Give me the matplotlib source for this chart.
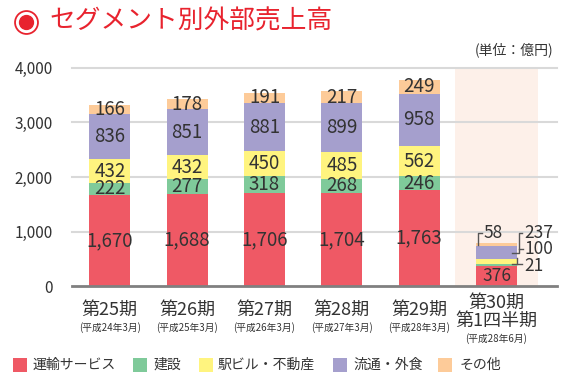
import matplotlib
matplotlib.use('Agg')
import matplotlib.pyplot as plt
from matplotlib.lines import Line2D
from matplotlib.patches import Rectangle
import numpy as np

plt.rcParams['font.family'] = ['Noto Sans CJK JP', 'DejaVu Sans']

# data (億円)
periods = ['第25期', '第26期', '第27期', '第28期', '第29期', '第30期\n第1四半期']
subs = ['(平成24年3月)', '(平成25年3月)', '(平成26年3月)', '(平成27年3月)', '(平成28年3月)', '(平成28年6月)']
segments = ['運輸サービス', '建設', '駅ビル・不動産', '流通・外食', 'その他']
transport = [1670, 1688, 1706, 1704, 1763, 376]
construction = [222, 277, 318, 268, 246, 21]
realestate = [432, 432, 450, 485, 562, 100]
retail = [836, 851, 881, 899, 958, 237]
other = [166, 178, 191, 217, 249, 58]
colors = ['#EF5965', '#7FCA9A', '#FFF47F', '#A59FCD', '#FDCB99']

series = [transport, construction, realestate, retail, other]
txt = '#333333'

fig = plt.figure(figsize=(5.69, 3.86), dpi=100)
ax = fig.add_axes([0.1265, 0.259, 0.852, 0.565])

x = np.arange(len(periods))
w = 0.53

# highlight band for the quarter
ax.add_patch(Rectangle((4.46, 0), 1.08, 4000, facecolor='#FDF0E9', edgecolor='none', zorder=0))

for yv in [1000, 2000, 3000, 4000]:
    ax.axhline(yv, color='#D9D9D9', lw=1.5, zorder=1, clip_on=False)

bottom = np.zeros(len(periods))
for vals, col in zip(series, colors):
    vals = np.array(vals, dtype=float)
    ax.bar(x, vals, w, bottom=bottom, color=col, zorder=2)
    for i in range(5):
        ax.text(x[i], bottom[i] + vals[i] / 2, f'{int(vals[i]):,}', ha='center', va='center',
                fontsize=13.5, color=txt, zorder=3)
    bottom += vals

# quarter labels
qi = 5
qfs = 12.5
ax.text(x[qi], transport[qi] / 2, f'{transport[qi]}', ha='center', va='center',
        fontsize=qfs, color=txt, zorder=3)
lc = '#555555'
# 58 (other)
ax.plot([4.758, 4.758, 4.81], [752, 972, 972], color=lc, lw=1, zorder=3)
ax.text(4.83, 972, f'{other[qi]}', ha='left', va='center', fontsize=qfs, color=txt)
# 237 (retail)
ax.plot([5.207, 5.288, 5.288, 5.325], [606, 606, 972, 972], color=lc, lw=1, zorder=3)
ax.text(5.36, 972, f'{retail[qi]}', ha='left', va='center', fontsize=qfs, color=txt)
# 100 (real estate)
ax.plot([5.297, 5.345], [679, 679], color=lc, lw=1, zorder=3)
ax.text(5.36, 679, f'{realestate[qi]}', ha='left', va='center', fontsize=qfs, color=txt)
# 21 (construction)
ax.plot([5.271, 5.271], [514, 404], color=lc, lw=1, zorder=3)
ax.plot([5.207, 5.336], [404, 404], color=lc, lw=1, zorder=3)
ax.text(5.36, 367, f'{construction[qi]}', ha='left', va='center', fontsize=qfs, color=txt)

ax.set_xlim(-0.49, 5.78)
ax.set_ylim(0, 4000)
ax.set_yticks([0, 1000, 2000, 3000, 4000])
ax.set_yticklabels(['0', '1,000', '2,000', '3,000', '4,000'], fontsize=11, color=txt)
ax.tick_params(axis='y', length=0, pad=14)
ax.set_xticks([])
for s in ['top', 'right', 'left']:
    ax.spines[s].set_visible(False)
ax.spines['bottom'].set_color('#808080')
ax.spines['bottom'].set_linewidth(2)
ax.spines['bottom'].set_zorder(4)

# x labels
for i in range(5):
    ax.text(x[i], -440, periods[i], ha='center', va='center', fontsize=13, color=txt)
    ax.text(x[i], -770, subs[i], ha='center', va='center', fontsize=7, color=txt)
ax.text(x[5], -475, periods[5], ha='center', va='center', fontsize=13, color=txt,
        linespacing=1.05)
ax.text(x[5], -955, subs[5], ha='center', va='center', fontsize=7, color=txt)

fig.text(553 / 569, 1 - 50 / 386, '(単位：億円)', ha='right', va='center', fontsize=10, color=txt)

# title
red = '#E8232E'
fig.add_artist(Line2D([25.5 / 569], [1 - 22 / 386], marker='o', markersize=16.5, markerfacecolor='white',
                      markeredgecolor=red, markeredgewidth=1.3, transform=fig.transFigure))
fig.add_artist(Line2D([25.5 / 569], [1 - 22 / 386], marker='o', markersize=10, markerfacecolor=red,
                      markeredgecolor=red, transform=fig.transFigure))
fig.text(49 / 569, 1 - 21 / 386, 'セグメント別外部売上高', ha='left', va='center', fontsize=18.5,
         color=red)

# legend
sq_x = [13, 133, 199, 333, 438]
tx_x = [33, 154, 218, 353, 460]
for px, tx, lab, col in zip(sq_x, tx_x, segments, colors):
    fig.patches.append(Rectangle((px / 569, 1 - 372 / 386), 14 / 569, 14 / 386,
                                 facecolor=col, edgecolor='none', transform=fig.transFigure))
    fig.text(tx / 569, 1 - 365 / 386, lab, ha='left', va='center', fontsize=10, color=txt)

fig.savefig('out.png', dpi=100)
